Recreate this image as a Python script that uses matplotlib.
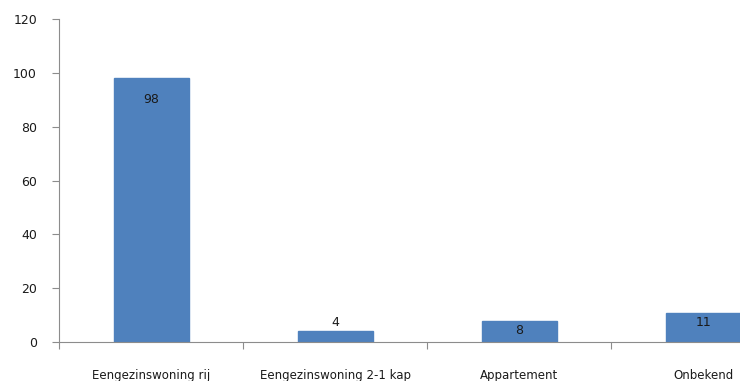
import matplotlib.pyplot as plt

categories = ['Eengezinswoning rij', 'Eengezinswoning 2-1 kap', 'Appartement', 'Onbekend']
counts = [98, 4, 8, 11]

plt.rcParams['font.family'] = ['DejaVu Sans']

fig = plt.figure(figsize=(7.4, 3.81), dpi=100)
ax = fig.add_axes([0.08, 0.102, 0.995, 0.848])

pos = list(range(len(categories)))
bars = ax.bar(pos, counts, width=0.41, color='#4F81BD', edgecolor='#4F81BD', zorder=2)

# value labels: inside the bar top, above it when the bar is too short
for x, v in zip(pos, counts):
    if v < 6:
        ax.text(x, v + 0.8, str(v), ha='center', va='bottom', fontsize=9, color='#1a1a1a')
    else:
        drop = 5.5 if v > 20 else 1.2
        ax.text(x, v - drop, str(v), ha='center', va='top', fontsize=9, color='#1a1a1a')

ax.set_xlim(-0.5, len(categories) - 0.5)
ax.set_ylim(0, 120)
ax.set_yticks(range(0, 121, 20))

# category boundaries get the tick marks, names sit centred below
ax.set_xticks([p - 0.5 for p in pos] + [len(pos) - 0.5])
ax.set_xticklabels([])
ax.set_xticks(pos, minor=True)
ax.set_xticklabels(categories, minor=True)
ax.tick_params(axis='x', which='minor', length=0, pad=19, labelsize=8.5, labelcolor='#1a1a1a')
ax.tick_params(axis='x', which='major', length=5, color='#8c8c8c', direction='out')
ax.tick_params(axis='y', length=5, color='#8c8c8c', labelsize=9, pad=11, labelcolor='#1a1a1a')

for side in ('top', 'right'):
    ax.spines[side].set_visible(False)
for side in ('left', 'bottom'):
    ax.spines[side].set_color('#8c8c8c')

fig.savefig('out.png', dpi=100)
